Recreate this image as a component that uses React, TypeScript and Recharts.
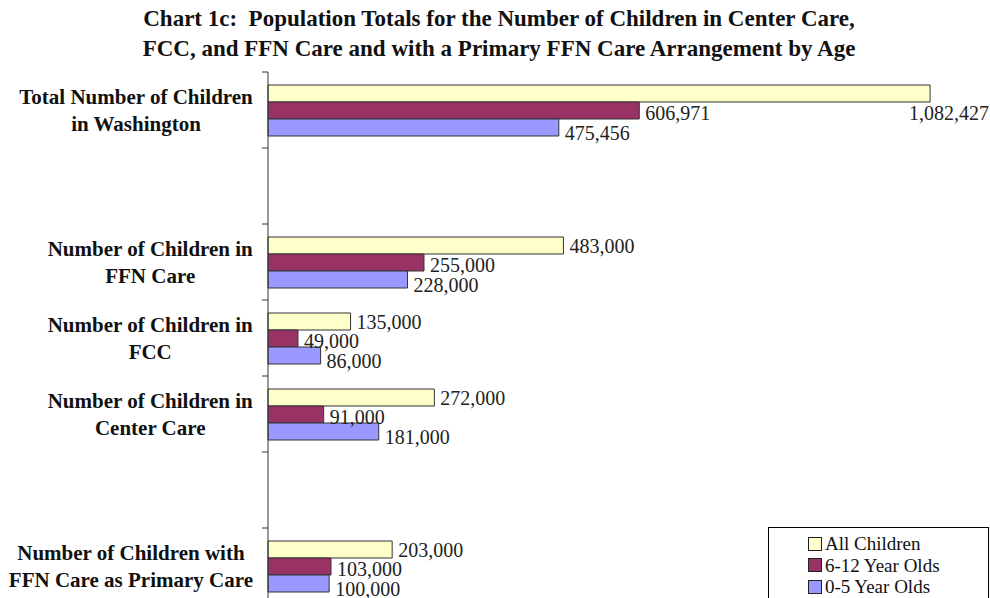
import { BarChart, Bar, XAxis, YAxis, LabelList, Legend } from "recharts";

const titleLines = [
  "Chart 1c:  Population Totals for the Number of Children in Center Care,",
  "FCC, and FFN Care and with a Primary FFN Care Arrangement by Age",
];

// blank entries are the empty rows between the groups
const categories = [
  "Total Number of Children\nin Washington",
  "",
  "Number of Children in\nFFN Care",
  "Number of Children in\nFCC",
  "Number of Children in\nCenter Care",
  "",
  "Number of Children with\nFFN Care as Primary Care",
];
const allChildren = [1082427, null, 483000, 135000, 272000, null, 203000];
const olds6to12 = [606971, null, 255000, 49000, 91000, null, 103000];
const olds0to5 = [475456, null, 228000, 86000, 181000, null, 100000];
const seriesNames = ["All Children", "6-12 Year Olds", "0-5 Year Olds"];

const data = categories.map((name, i) => ({
  name,
  all: allChildren[i],
  mid: olds6to12[i],
  young: olds0to5[i],
}));

const SERIF = '"Liberation Serif", "Times New Roman", serif';
const AXIS_X = 268;
const LABEL_RIGHT = 989;

let ctx: CanvasRenderingContext2D | null = null;
function textWidth(text: string, font: string) {
  if (!ctx) ctx = document.createElement("canvas").getContext("2d");
  if (!ctx) return text.length * 9;
  ctx.font = font;
  return ctx.measureText(text).width;
}

function CategoryTick(props: any) {
  const { y, payload, index } = props;
  const half = payload?.offset ?? 38;
  const lines = String(payload?.value ?? "").split("\n").filter(Boolean);
  const font = `bold 21px ${SERIF}`;
  const maxW = Math.max(0, ...lines.map((l) => textWidth(l, font)));
  const cx = 253 - maxW / 2;
  return (
    <g>
      <line x1={AXIS_X - 6} x2={AXIS_X} y1={y - half} y2={y - half} stroke="#333" />
      {index === categories.length - 1 && (
        <line x1={AXIS_X - 6} x2={AXIS_X} y1={y + half} y2={y + half} stroke="#333" />
      )}
      {lines.map((l, i) => (
        <text
          key={i}
          x={cx}
          y={y + (i - (lines.length - 1) / 2) * 27}
          textAnchor="middle"
          dominantBaseline="central"
          fontFamily={SERIF}
          fontWeight="bold"
          fontSize={21}
          fill="#111"
        >
          {l}
        </text>
      ))}
    </g>
  );
}

function valueLabel(dy: number) {
  return (props: any) => {
    const { x, y, width, height, value } = props;
    if (value == null) return null;
    const text = Number(value).toLocaleString("en-US");
    const w = textWidth(text, `20px ${SERIF}`);
    let tx = x + width + 6;
    let ty = y + height / 2 + dy;
    if (tx + w > LABEL_RIGHT) {
      tx = LABEL_RIGHT - w;
      ty = y + height + 11;
    }
    return (
      <text x={tx} y={ty} dominantBaseline="central" fontFamily={SERIF} fontSize={20} fill="#222">
        {text}
      </text>
    );
  };
}

function LegendBox(props: any) {
  const items = [...(props.payload ?? [])].sort(
    (a: any, b: any) => seriesNames.indexOf(a.value) - seriesNames.indexOf(b.value)
  );
  return (
    <div
      style={{
        border: "1px solid #000",
        background: "#fff",
        boxSizing: "border-box",
        width: 221,
        height: 90,
        paddingTop: 5,
        paddingLeft: 39,
      }}
    >
      {items.map((it: any) => (
        <div
          key={it.value}
          style={{
            display: "flex",
            alignItems: "center",
            height: 21.5,
            fontFamily: SERIF,
            fontSize: 19,
            color: "#111",
            lineHeight: 1,
          }}
        >
          <span
            style={{
              width: 12,
              height: 12,
              background: it.color,
              border: "1px solid #222",
              marginRight: 3,
              display: "inline-block",
            }}
          />
          {it.value}
        </div>
      ))}
    </div>
  );
}

export default function App() {
  return (
    <div
      style={{
        position: "absolute",
        left: 0,
        top: 0,
        width: 990,
        height: 598,
        overflow: "hidden",
        background: "#fff",
      }}
    >
      <div
        style={{
          position: "absolute",
          left: 0,
          top: 4,
          width: 998,
          textAlign: "center",
          fontFamily: SERIF,
          fontWeight: "bold",
          fontSize: 23,
          lineHeight: "30px",
          color: "#111",
          whiteSpace: "pre",
        }}
      >
        {titleLines.map((t) => (
          <div key={t}>{t}</div>
        ))}
      </div>
      <div style={{ position: "absolute", left: 0, top: 0 }}>
        <BarChart
          width={1010}
          height={620}
          data={data}
          layout="vertical"
          margin={{ top: 72, right: 8, bottom: 16, left: 0 }}
          barGap={0}
          barSize={17}
        >
          <XAxis
            type="number"
            orientation="top"
            domain={[0, 1200000]}
            height={0}
            tick={false}
            tickLine={false}
            axisLine={{ stroke: "#aaa" }}
          />
          <YAxis
            type="category"
            dataKey="name"
            width={AXIS_X}
            tickLine={false}
            axisLine={{ stroke: "#333" }}
            tick={<CategoryTick />}
            interval={0}
          />
          <Legend
            layout="vertical"
            align="center"
            verticalAlign="middle"
            wrapperStyle={{ position: "absolute", left: 768, top: 527, width: 221 }}
            content={<LegendBox />}
          />
          <Bar dataKey="all" name={seriesNames[0]} fill="#FFFFCC" stroke="#333" isAnimationActive={false}>
            <LabelList dataKey="all" content={valueLabel(0)} />
          </Bar>
          <Bar dataKey="mid" name={seriesNames[1]} fill="#993366" stroke="#333" isAnimationActive={false}>
            <LabelList dataKey="mid" content={valueLabel(2)} />
          </Bar>
          <Bar dataKey="young" name={seriesNames[2]} fill="#9999FF" stroke="#333" isAnimationActive={false}>
            <LabelList dataKey="young" content={valueLabel(5)} />
          </Bar>
        </BarChart>
      </div>
    </div>
  );
}
